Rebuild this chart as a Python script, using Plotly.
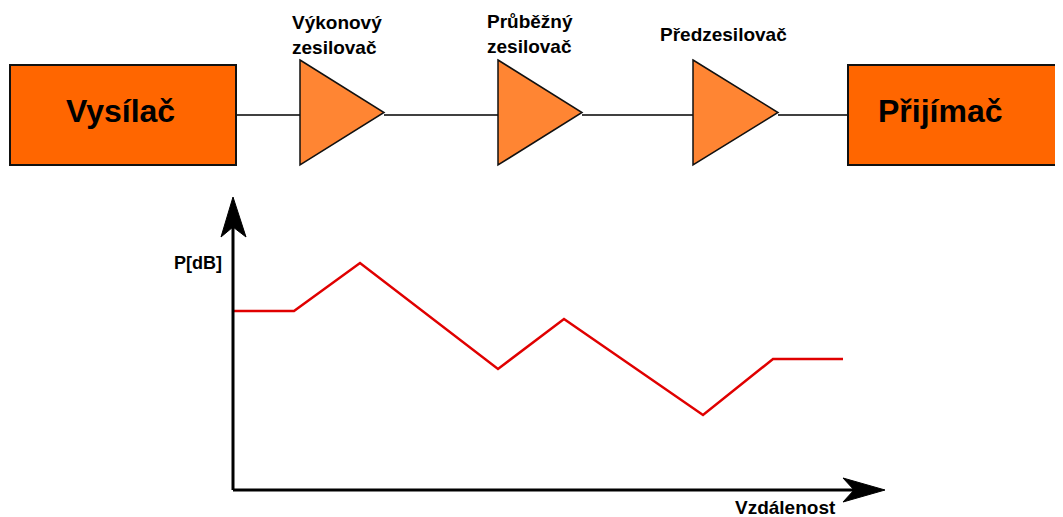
import plotly.graph_objects as go

# ── Data ─────────────────────────────────────────────────────────────────────
# power level along the link (arbitrary units)
distance = [0, 61, 127, 265, 331, 470, 540, 610]
power_db = [179, 179, 227, 121, 171, 75, 131, 131]

end_blocks = ["Vysílač", "Přijímač"]
amplifiers = ["Výkonový<br>zesilovač", "Průběžný<br>zesilovač", "Předzesilovač"]
axis_labels = ["P[dB]", "Vzdálenost"]

# ── Layout constants (pixel space of the 1063x517 canvas) ───────────────────
W, H = 1063, 517
PAD = 8          # page body margin the figure sits inside
BOX_COLOR = "#FF6600"
AMP_COLOR = "#FF8533"
LINE_Y = 115
FONT = "Liberation Sans, Arial, sans-serif"

box_x = [(10, 236), (848, 1062)]
box_y = (65, 165)
box_label_x = [120, 940]
amp_x = [(300, 384), (498, 582), (693, 778)]
amp_y = (60, 165)
amp_label_pos = [(290, 35), (485, 34), (658, 34)]

fig = go.Figure()

# signal level curve on its own axes (origin at the drawn axes corner)
fig.add_trace(go.Scatter(
    x=distance, y=power_db, mode="lines",
    line=dict(color="#E00000", width=2.5),
    xaxis="x2", yaxis="y2", hoverinfo="skip", showlegend=False,
))

shapes = []
annotations = []

# connecting wire between blocks
chain = [box_x[0][1]] + [v for a in amp_x for v in a] + [box_x[1][0]]
for x0, x1 in zip(chain[0::2], chain[1::2]):
    shapes.append(dict(type="line", xref="x", yref="y", x0=x0, x1=x1,
                       y0=LINE_Y, y1=LINE_Y, line=dict(color="black", width=1.3)))

# transmitter / receiver boxes
for (x0, x1), name, cx in zip(box_x, end_blocks, box_label_x):
    shapes.append(dict(type="rect", xref="x", yref="y", x0=x0, x1=x1,
                       y0=box_y[0], y1=box_y[1], fillcolor=BOX_COLOR,
                       line=dict(color="#111111", width=2)))
    annotations.append(dict(x=cx, y=(box_y[0] + box_y[1]) / 2 - 4, xref="x", yref="y",
                            text=f"<b>{name}</b>", showarrow=False,
                            font=dict(size=32, color="black", family=FONT)))

# amplifier triangles
for (x0, x1), name, (lx, ly) in zip(amp_x, amplifiers, amp_label_pos):
    mid = (amp_y[0] + amp_y[1]) / 2
    shapes.append(dict(type="path", xref="x", yref="y",
                       path=f"M{x0},{amp_y[0]} L{x1},{mid} L{x0},{amp_y[1]} Z",
                       fillcolor=AMP_COLOR, line=dict(color="#111111", width=1.5)))
    annotations.append(dict(x=lx, y=ly, xref="x", yref="y", xanchor="left", align="left",
                            text=f"<b>{name}</b>", showarrow=False,
                            font=dict(size=19, color="black", family=FONT)))

# drawn axes with arrow heads
OX, OY = 233, 490
shapes += [
    dict(type="line", xref="x", yref="y", x0=OX, x1=OX, y0=OY, y1=215,
         line=dict(color="black", width=3)),
    dict(type="line", xref="x", yref="y", x0=OX, x1=865, y0=OY, y1=OY,
         line=dict(color="black", width=3)),
    dict(type="path", xref="x", yref="y", fillcolor="black",
         path=f"M{OX},197 L246,237 L{OX},227 L221,237 Z",
         line=dict(color="black", width=1)),
    dict(type="path", xref="x", yref="y", fillcolor="black",
         path=f"M885,{OY} L843,478 L854,{OY} L843,502 Z",
         line=dict(color="black", width=1)),
]
annotations += [
    dict(x=198, y=263, xref="x", yref="y", text=f"<b>{axis_labels[0]}</b>",
         showarrow=False, font=dict(size=18, color="black", family=FONT)),
    dict(x=785, y=507, xref="x", yref="y", text=f"<b>{axis_labels[1]}</b>",
         showarrow=False, font=dict(size=19, color="black", family=FONT)),
]

hidden = dict(visible=False, showgrid=False, zeroline=False, fixedrange=True)
fig.update_layout(
    width=W - PAD, height=H - PAD,
    margin=dict(l=0, r=0, t=0, b=0),
    paper_bgcolor="white", plot_bgcolor="white",
    xaxis=dict(range=[PAD, W], domain=[0, 1], **hidden),
    yaxis=dict(range=[H, PAD], domain=[0, 1], **hidden),
    xaxis2=dict(range=[PAD - OX, W - OX], overlaying="x", anchor="y2", **hidden),
    yaxis2=dict(range=[OY - H, OY - PAD], overlaying="y", anchor="x2", **hidden),
    shapes=shapes,
    annotations=annotations,
    showlegend=False,
)

fig.write_html("out.html")
